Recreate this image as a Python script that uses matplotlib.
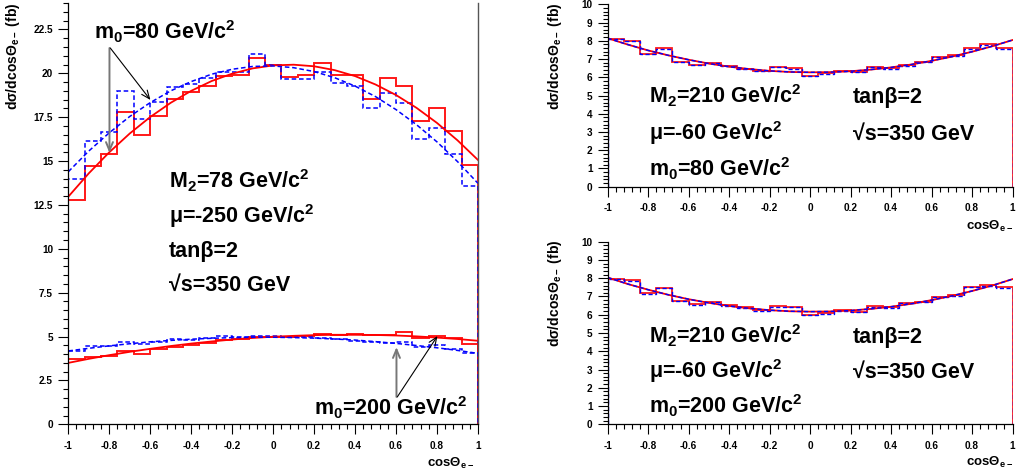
import numpy as np
import matplotlib
matplotlib.use("Agg")
import matplotlib.pyplot as plt
from matplotlib.ticker import MultipleLocator, FuncFormatter

plt.rcParams['font.family'] = ['Liberation Sans', 'DejaVu Sans']
plt.rcParams['font.weight'] = 'bold'
plt.rcParams['mathtext.fontset'] = 'custom'
plt.rcParams['mathtext.rm'] = 'Liberation Sans:bold'
plt.rcParams['mathtext.bf'] = 'Liberation Sans:bold'
plt.rcParams['mathtext.it'] = 'Liberation Sans:bold'
plt.rcParams['mathtext.sf'] = 'Liberation Sans:bold'
plt.rcParams['mathtext.default'] = 'rm'
plt.rcParams['axes.unicode_minus'] = False

# ---------------- data ----------------
n_bins = 25
bin_edges = np.linspace(-1.0, 1.0, n_bins + 1)
curve_x = [-1.0, -0.9, -0.8, -0.7, -0.6, -0.5, -0.4, -0.3, -0.2, -0.1, 0.0,
           0.1, 0.2, 0.3, 0.4, 0.5, 0.6, 0.7, 0.8, 0.9, 1.0]

# left panel, m0 = 80
left_red80_hist = [12.8, 14.7, 15.4, 17.82, 16.5, 17.55, 18.52, 18.94, 19.28, 19.85,
                   19.88, 20.85, 20.47, 19.8, 19.93, 20.57, 19.9, 19.9, 18.54, 19.72,
                   19.28, 17.3, 18.0, 16.74, 14.78]
left_blue80_hist = [14.0, 16.16, 16.66, 18.97, 17.38, 18.35, 19.22, 19.4, 19.75, 20.05,
                    20.1, 21.08, 20.47, 19.68, 19.68, 20.1, 19.47, 19.28, 18.05, 18.88,
                    18.33, 16.27, 16.87, 15.42, 13.6]
left_red80_fit = [12.97, 14.30, 15.50, 16.57, 17.51, 18.32, 19.00, 19.56, 19.98, 20.28, 20.45,
                  20.49, 20.40, 20.18, 19.84, 19.36, 18.76, 18.03, 17.17, 16.18, 15.06]
left_blue80_fit = [14.39, 15.57, 16.61, 17.54, 18.33, 19.00, 19.53, 19.95, 20.23, 20.39, 20.42,
                   20.32, 20.10, 19.75, 19.27, 18.67, 17.93, 17.07, 16.09, 14.97, 13.73]

# left panel, m0 = 200
left_red200_hist = [3.70, 3.85, 3.88, 4.18, 3.99, 4.29, 4.42, 4.53, 4.65, 4.81,
                    4.84, 4.95, 5.0, 5.0, 5.04, 5.14, 5.10, 5.14, 5.10, 5.07,
                    5.26, 4.89, 5.05, 4.89, 4.6]
left_blue200_hist = [4.19, 4.46, 4.46, 4.71, 4.58, 4.71, 4.84, 4.8, 4.9, 5.05,
                     5.0, 5.05, 5.02, 4.99, 4.96, 4.9, 4.84, 4.75, 4.71, 4.61,
                     4.71, 4.42, 4.52, 4.27, 4.08]
left_red200_fit = [3.50, 3.73, 3.94, 4.13, 4.30, 4.46, 4.60, 4.72, 4.83, 4.92, 4.99,
                   5.04, 5.08, 5.10, 5.10, 5.09, 5.06, 5.01, 4.94, 4.86, 4.76]
left_blue200_fit = [4.18, 4.33, 4.47, 4.59, 4.70, 4.78, 4.85, 4.90, 4.94, 4.96, 4.96,
                    4.94, 4.91, 4.86, 4.80, 4.71, 4.61, 4.49, 4.36, 4.21, 4.04]

# right top, m0 = 80
rt_red_hist = [8.1, 8.0, 7.28, 7.59, 6.86, 6.67, 6.8, 6.64, 6.45, 6.36,
               6.58, 6.49, 6.09, 6.22, 6.36, 6.31, 6.58, 6.49, 6.67, 6.86,
               7.13, 7.22, 7.59, 7.81, 7.59]
rt_blue_hist = [8.08, 7.97, 7.25, 7.56, 6.83, 6.65, 6.78, 6.61, 6.43, 6.33,
                6.55, 6.46, 6.07, 6.19, 6.33, 6.28, 6.55, 6.46, 6.64, 6.83,
                7.10, 7.19, 7.56, 7.78, 7.56]
rt_fit = [8.14, 7.79, 7.47, 7.20, 6.96, 6.75, 6.58, 6.45, 6.35, 6.29, 6.27,
          6.28, 6.33, 6.42, 6.54, 6.70, 6.90, 7.13, 7.40, 7.70, 8.04]

# right bottom, m0 = 200
rb_red_hist = [7.96, 7.9, 7.17, 7.48, 6.77, 6.59, 6.72, 6.51, 6.41, 6.26,
               6.48, 6.44, 5.99, 6.08, 6.26, 6.17, 6.48, 6.41, 6.66, 6.72,
               6.99, 7.08, 7.54, 7.63, 7.5]
rb_blue_hist = [7.93, 7.87, 7.14, 7.45, 6.74, 6.56, 6.69, 6.48, 6.38, 6.23,
                6.45, 6.41, 5.96, 6.05, 6.23, 6.14, 6.45, 6.38, 6.63, 6.69,
                6.96, 7.05, 7.51, 7.60, 7.47]
rb_fit = [8.04, 7.68, 7.37, 7.09, 6.85, 6.65, 6.48, 6.35, 6.25, 6.19, 6.17,
          6.18, 6.23, 6.32, 6.44, 6.60, 6.80, 7.03, 7.30, 7.60, 7.95]

# ---------------- figure ----------------
W, H = 1016, 474
fig = plt.figure(figsize=(W / 100, H / 100), dpi=100)
fig.patch.set_facecolor('white')

def px_axes(x0, x1, ytop, ybot):
    return fig.add_axes([x0 / W, (H - ybot) / H, (x1 - x0) / W, (ybot - ytop) / H])

axL = px_axes(68.3, 478.0, 3.1, 424.3)
axRT = px_axes(607.7, 1012.5, 4.3, 186.7)
axRB = px_axes(607.7, 1012.5, 241.7, 424.3)

RED = '#ff0000'
BLUE = '#0000ff'
DASH = (0, (3.0, 1.8))

fmt = FuncFormatter(lambda v, p: ('%g' % round(v, 3)))

def style(ax, ymax, ymajor, yminor):
    ax.set_xlim(-1, 1)
    ax.set_ylim(0, ymax)
    ax.xaxis.set_major_locator(MultipleLocator(0.2))
    ax.xaxis.set_minor_locator(MultipleLocator(0.04))
    ax.yaxis.set_major_locator(MultipleLocator(ymajor))
    ax.yaxis.set_minor_locator(MultipleLocator(yminor))
    ax.xaxis.set_major_formatter(fmt)
    ax.yaxis.set_major_formatter(fmt)
    ax.tick_params(which='major', direction='out', length=7, width=0.8,
                   labelsize=7.2, color='black')
    ax.tick_params(which='minor', direction='out', length=3.6, width=0.8, color='black')
    ax.tick_params(axis='x', which='major', pad=5.0)
    ax.tick_params(axis='y', which='major', pad=4.0)
    for lab in ax.get_xticklabels() + ax.get_yticklabels():
        lab.set_fontweight('bold')
    ax.spines['top'].set_visible(False)
    ax.spines['left'].set_linewidth(0.9)
    ax.spines['bottom'].set_linewidth(0.9)
    ax.spines['right'].set_color('#555555')
    ax.spines['right'].set_linewidth(1.0)
    ax.patch.set_alpha(0)

style(axL, 24, 2.5, 0.5)
style(axRT, 10, 1, 0.2)
style(axRB, 10, 1, 0.2)
for ax in (axRT, axRB):
    ax.spines['right'].set_visible(False)

# left panel drawing
axL.stairs(left_red80_hist, bin_edges, baseline=0, color=RED, lw=1.4, alpha=0.9)
axL.stairs(left_blue80_hist, bin_edges, baseline=0, color=BLUE, lw=1.1, linestyle=DASH)
axL.plot(curve_x, left_red80_fit, color=RED, lw=1.3)
axL.plot(curve_x, left_blue80_fit, color=BLUE, lw=1.1, linestyle=DASH)
axL.stairs(left_red200_hist, bin_edges, baseline=0, color=RED, lw=1.4, alpha=0.9)
axL.stairs(left_blue200_hist, bin_edges, baseline=0, color=BLUE, lw=1.1, linestyle=DASH)
axL.plot(curve_x, left_red200_fit, color=RED, lw=1.3)
axL.plot(curve_x, left_blue200_fit, color=BLUE, lw=1.1, linestyle=DASH)

for ax, rh, bh, fit in [(axRT, rt_red_hist, rt_blue_hist, rt_fit),
                        (axRB, rb_red_hist, rb_blue_hist, rb_fit)]:
    ax.stairs(rh, bin_edges, baseline=0, color=RED, lw=1.3, alpha=0.9)
    ax.stairs(bh, bin_edges, baseline=0, color=BLUE, lw=1.0, linestyle=DASH)
    ax.plot(curve_x, fit, color=RED, lw=1.3)
    ax.plot(curve_x, fit, color=BLUE, lw=1.0, linestyle=DASH)

# annotation texts
TS = 15.5
def label(ax, x, y, s):
    ax.text(x, y, s, fontsize=TS, fontweight='bold', ha='left', va='baseline',
            transform=ax.transData, clip_on=False)

label(axL, -0.874, 21.95, r'm$_{0}$=80 GeV/c$^{2}$')
label(axL, -0.508, 13.46, r'M$_{2}$=78 GeV/c$^{2}$')
label(axL, -0.508, 11.49, r'μ=-250 GeV/c$^{2}$')
label(axL, -0.508, 9.53, r'tanβ=2')
label(axL, -0.508, 7.60, r'√s=350 GeV')
label(axL, 0.20, 0.53, r'm$_{0}$=200 GeV/c$^{2}$')

for ax, m0txt, ys in [(axRT, r'm$_{0}$=80 GeV/c$^{2}$', (4.59, 2.56, 0.59)),
                      (axRB, r'm$_{0}$=200 GeV/c$^{2}$', (4.45, 2.54, 0.62))]:
    label(ax, -0.795, ys[0], r'M$_{2}$=210 GeV/c$^{2}$')
    label(ax, 0.21, ys[0], r'tanβ=2')
    label(ax, -0.795, ys[1], r'μ=-60 GeV/c$^{2}$')
    label(ax, 0.21, ys[1], r'√s=350 GeV')
    label(ax, -0.795, ys[2], m0txt)

# arrows
def arrow(ax, start, end, color, lw):
    ax.annotate('', xy=end, xytext=start, xycoords='data', textcoords='data',
                arrowprops=dict(arrowstyle='->,head_length=0.6,head_width=0.25',
                                color=color, lw=lw, shrinkA=0, shrinkB=0))

arrow(axL, (-0.799, 21.44), (-0.799, 15.46), '#777777', 1.4)
arrow(axL, (-0.795, 21.44), (-0.599, 18.48), 'black', 0.8)
arrow(axL, (0.602, 1.56), (0.602, 4.40), '#777777', 1.4)
arrow(axL, (0.606, 1.56), (0.802, 5.03), 'black', 0.8)

# axis titles
ylab = 'dσ/dcosΘ$_{e-}$ (fb)'
fig.text(13 / W, 1 - 2.5 / H, ylab, rotation=90, ha='center', va='top',
         fontsize=10, fontweight='bold')
fig.text(555 / W, 1 - 2.5 / H, ylab, rotation=90, ha='center', va='top',
         fontsize=10, fontweight='bold')
fig.text(555 / W, 1 - 239.5 / H, ylab, rotation=90, ha='center', va='top',
         fontsize=10, fontweight='bold')

xlab = 'cosΘ$_{e-}$'
fig.text(474 / W, 1 - 466.5 / H, xlab, ha='right', va='baseline', fontsize=9.5, fontweight='bold')
fig.text(1013 / W, 1 - 230 / H, xlab, ha='right', va='baseline', fontsize=9.5, fontweight='bold')
fig.text(1013 / W, 1 - 465.5 / H, xlab, ha='right', va='baseline', fontsize=9.5, fontweight='bold')

fig.savefig('out.png', dpi=100)
